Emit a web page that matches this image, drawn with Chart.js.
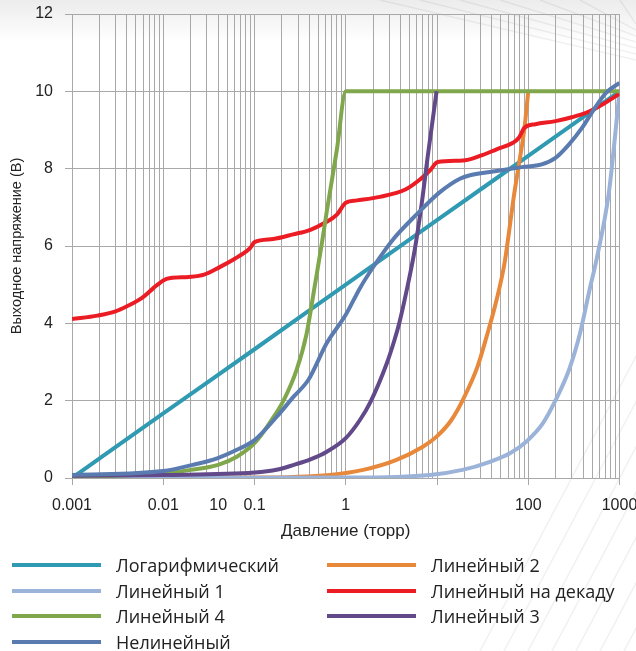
<!DOCTYPE html>
<html>
<head>
<meta charset="utf-8">
<script src="https://cdn.jsdelivr.net/npm/chart.js@4.4.1/dist/chart.umd.min.js"></script>
<style>
body{margin:0;width:636px;height:651px;overflow:hidden;background:linear-gradient(#ececec 0px,#ffffff 42px);font-family:"Liberation Sans",Arial,sans-serif}
#deco{position:absolute;left:0;top:0}
#wrap{position:absolute;left:0;top:0;width:636px;height:548px}
#legend{position:absolute;left:12px;top:552px;display:grid;grid-template-columns:315px 300px;grid-auto-rows:25.7px}
.item{display:flex;align-items:center;font-family:"Open Sans",sans-serif;font-size:18px;color:#222}
.sw{width:89px;height:4px;margin-right:15px}
</style>
</head>
<body>
<canvas id="deco" width="636" height="651"></canvas>
<div id="wrap"><canvas id="chart" width="636" height="548"></canvas></div>
<div id="legend"></div>
<script>
// values (pressure in torr, output in volts)
const logP=[0.001,0.01,0.1,1,10,100,1000];
const logV=[0,1.67,3.33,5,6.67,8.33,10];

const lin1P=[0.001,1,8.4,19,38,63,95,145,200,280,370,470,560,760,860,1000];
const lin1V=[0,0.01,0.08,0.21,0.42,0.64,0.94,1.42,2.02,2.8,3.75,4.87,5.65,7.33,8.45,10];

const lin2P=[0.001,0.1,0.67,1.55,3.6,7,9.9,14.4,19.2,27.8,35,45,55,70,79,91,100];
const lin2V=[0,0.01,0.08,0.21,0.47,0.81,1.07,1.5,2.02,2.88,3.66,4.61,5.56,7.33,8.11,9.06,10];

const lin3P=[0.001,0.01,0.1,0.18,0.27,0.41,0.62,1,1.43,1.85,2.8,3.4,3.9,4.6,5.7,6.8,8,9.9];
const lin3V=[0.06,0.08,0.14,0.22,0.34,0.48,0.68,1.03,1.5,1.95,2.95,3.55,4.05,4.8,5.9,7.1,8.4,10];

const lin4P=[0.001,0.01,0.02,0.04,0.064,0.1,0.15,0.21,0.29,0.37,0.46,0.55,0.62,0.8,1,10,100,1000];
const lin4V=[0.02,0.12,0.21,0.34,0.55,0.9,1.46,2.02,2.8,3.7,5.0,6.1,6.9,8.5,10,10,10,10];

const decP=[0.001,0.0019,0.003,0.004,0.0058,0.0078,0.01,0.012,0.019,0.028,0.042,0.059,0.079,0.09,0.1,0.16,0.265,0.41,0.59,0.8,1,1.32,2.37,4.5,6.5,8.4,10.2,19.2,29.6,45,68,79,91,120,199,300,455,650,1000];
const decV=[4.11,4.2,4.31,4.44,4.65,4.91,5.11,5.17,5.2,5.26,5.46,5.65,5.84,5.95,6.1,6.18,6.3,6.42,6.6,6.81,7.12,7.18,7.27,7.46,7.72,7.96,8.17,8.21,8.33,8.5,8.67,8.8,9.06,9.15,9.23,9.33,9.47,9.66,9.94];

const nonP=[0.001,0.01,0.021,0.039,0.064,0.1,0.176,0.27,0.39,0.62,1,1.43,2.02,3.3,5.94,10.6,17.8,23,45,85,140,199,280,390,510,720,1000];
const nonV=[0.08,0.18,0.34,0.51,0.73,0.98,1.59,2.11,2.54,3.49,4.22,4.91,5.47,6.17,6.81,7.38,7.74,7.83,7.94,8.04,8.11,8.28,8.63,9.06,9.49,9.97,10.22];

const xLabelValues=[0.001,0.01,0.04,0.1,1,100,1000];
const xLabelTexts=['0.001','0.01','10','0.1','1','100','1000'];

const gridCol='#a8a8a8';

function pts(P,V){
  return P.map((p,i)=>({x:p,y:V[i]}));
}
function same(a,b){
  return Math.abs(Math.log10(a)-Math.log10(b))<1e-6;
}

// background decoration
const dc=document.getElementById('deco').getContext('2d');
dc.strokeStyle='rgba(0,0,0,0.06)';
dc.lineWidth=1.5;
for(let i=0;i<7;i++){
  dc.beginPath();
  dc.moveTo(380+i*40,0);
  dc.lineTo(636,60+i*-6);
  dc.stroke();
}
for(let i=0;i<9;i++){
  dc.beginPath();
  dc.moveTo(480+i*24,651);
  dc.lineTo(650+i*24,330);
  dc.stroke();
}

const series=[
  {label:'Логарифмический',P:logP,V:logV,color:'#2f9ab2'},
  {label:'Линейный 2',P:lin2P,V:lin2V,color:'#e8883a'},
  {label:'Линейный 1',P:lin1P,V:lin1V,color:'#9bb2d9'},
  {label:'Линейный на декаду',P:decP,V:decV,color:'#ec1c24'},
  {label:'Линейный 4',P:lin4P,V:lin4V,color:'#80a74b'},
  {label:'Линейный 3',P:lin3P,V:lin3V,color:'#62498a'},
  {label:'Нелинейный',P:nonP,V:nonV,color:'#5a7bb0'}
];

const datasets=series.map((s,i)=>({
  label:s.label,
  data:pts(s.P,s.V),
  borderColor:s.color,
  backgroundColor:s.color,
  borderWidth:4,
  pointRadius:0,
  fill:false,
  cubicInterpolationMode:'monotone',
  order:series.length-i
}));

const gridValues=[];
for(let k=-3;k<=2;k++){
  for(let m=1;m<=9;m++) gridValues.push(parseFloat((m*Math.pow(10,k)).toPrecision(2)));
}
gridValues.push(1000);

new Chart(document.getElementById('chart'),{
  type:'line',
  data:{datasets},
  options:{
    responsive:false,
    animation:false,
    layout:{padding:{top:14,right:16.5,bottom:0,left:0}},
    plugins:{legend:{display:false},tooltip:{enabled:false}},
    scales:{
      x:{
        type:'logarithmic',
        min:0.001,max:1000,
        afterBuildTicks:s=>{ s.ticks=gridValues.map(v=>({value:v})); },
        afterFit:s=>{ s.height=70; s.paddingRight=16; s.paddingLeft=0; },
        ticks:{
          autoSkip:false,maxRotation:0,padding:11,color:'#222',
          font:{family:'"Liberation Sans", Arial, sans-serif',size:16},
          callback:v=>{
            const i=xLabelValues.findIndex(l=>same(l,v));
            return i<0?'':xLabelTexts[i];
          }
        },
        grid:{
          color:gridCol,lineWidth:1,tickLength:7,
          tickColor:ctx=>{
            const v=ctx.tick&&ctx.tick.value;
            return v&&same(v,Math.pow(10,Math.round(Math.log10(v))))?gridCol:'rgba(0,0,0,0)';
          }
        },
        border:{color:gridCol},
        title:{display:true,text:'Давление (торр)',color:'#222',
          font:{family:'"Liberation Sans", Arial, sans-serif',size:17},padding:{top:4,bottom:6}}
      },
      y:{
        min:0,max:12,
        afterFit:s=>{ s.width=72; s.paddingTop=0; s.paddingBottom=0; },
        ticks:{stepSize:2,padding:12,color:'#222',
          font:{family:'"Liberation Sans", Arial, sans-serif',size:16}},
        grid:{color:gridCol,lineWidth:1,tickLength:7,tickColor:gridCol},
        border:{color:gridCol},
        title:{display:true,text:'Выходное напряжение (В)',color:'#222',
          font:{family:'"Liberation Sans", Arial, sans-serif',size:14.5},padding:{top:8,bottom:0}}
      }
    }
  }
});

// legend in two columns, row by row
const lg=document.getElementById('legend');
series.forEach(s=>{
  const d=document.createElement('div');
  d.className='item';
  d.innerHTML='<span class="sw" style="background:'+s.color+'"></span>'+s.label;
  lg.appendChild(d);
});
</script>
</body>
</html>
